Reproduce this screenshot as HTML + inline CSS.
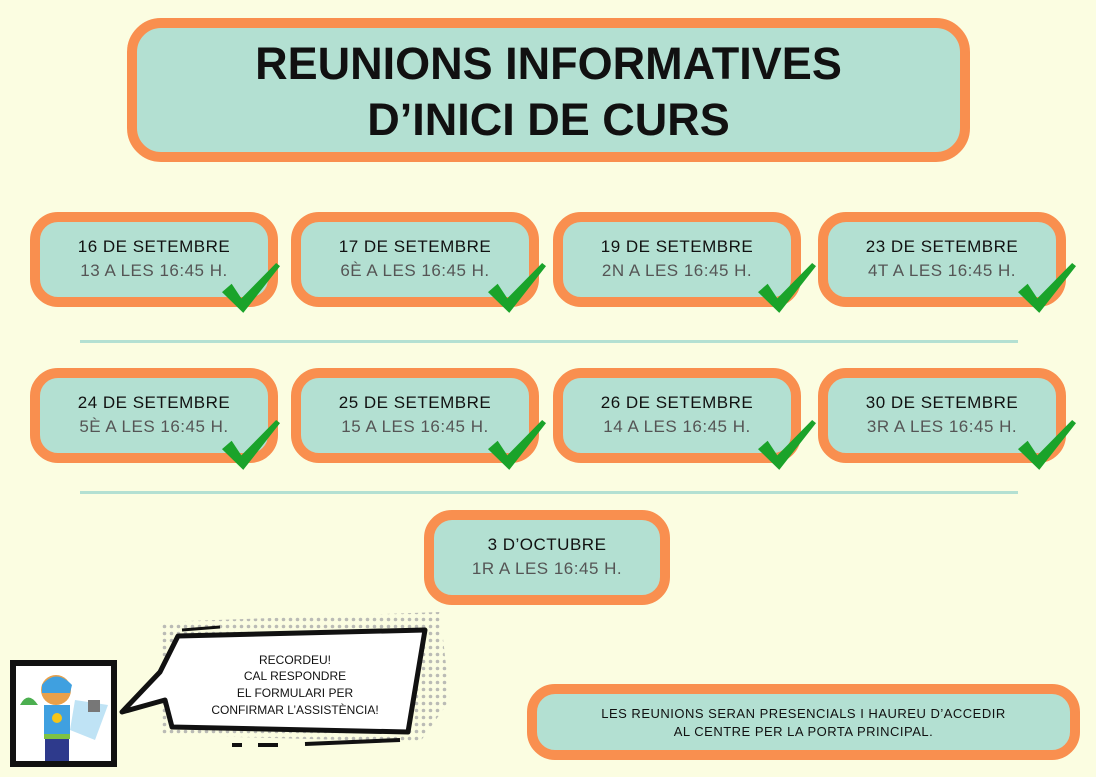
<!DOCTYPE html>
<html><head><meta charset="utf-8"><style>
body{margin:0;width:1096px;height:777px;background:#fbfde1;position:relative;overflow:hidden;font-family:"Liberation Sans","DejaVu Sans",sans-serif}
.b{position:absolute;box-sizing:border-box;border:10px solid #f98f4f;background:#b3e0d2;border-radius:28px;text-align:center}
.c{height:95px;width:248px;padding-top:15px;font-size:17px;letter-spacing:0.5px}
.c .l1{color:#111}.c .l2{color:#555;margin-top:4px}
.ln{position:absolute;left:80px;width:938px;height:3px;background:#b3e0d2}
</style></head><body>
<div class="b" style="left:127px;top:18px;width:843px;height:144px;border-radius:34px;font-weight:bold;font-size:45px;line-height:56px;padding-top:8px;color:#111">REUNIONS INFORMATIVES<br>D’INICI DE CURS</div>

<div class="b c" style="left:30px;top:212px"><div class="l1">16 DE SETEMBRE</div><div class="l2">13 A LES 16:45 H.</div></div>
<div class="b c" style="left:291px;top:212px"><div class="l1">17 DE SETEMBRE</div><div class="l2">6È A LES 16:45 H.</div></div>
<div class="b c" style="left:553px;top:212px"><div class="l1">19 DE SETEMBRE</div><div class="l2">2N A LES 16:45 H.</div></div>
<div class="b c" style="left:818px;top:212px"><div class="l1">23 DE SETEMBRE</div><div class="l2">4T A LES 16:45 H.</div></div>
<div class="ln" style="top:340px"></div>
<div class="b c" style="left:30px;top:368px"><div class="l1">24 DE SETEMBRE</div><div class="l2">5È A LES 16:45 H.</div></div>
<div class="b c" style="left:291px;top:368px"><div class="l1">25 DE SETEMBRE</div><div class="l2">15 A LES 16:45 H.</div></div>
<div class="b c" style="left:553px;top:368px"><div class="l1">26 DE SETEMBRE</div><div class="l2">14 A LES 16:45 H.</div></div>
<div class="b c" style="left:818px;top:368px"><div class="l1">30 DE SETEMBRE</div><div class="l2">3R A LES 16:45 H.</div></div>
<div class="ln" style="top:491px"></div>
<div class="b c" style="left:424px;top:510px;width:246px"><div class="l1">3 D’OCTUBRE</div><div class="l2">1R A LES 16:45 H.</div></div>

<div class="b" style="left:527px;top:684px;width:553px;height:76px;border-radius:28px;font-size:13px;line-height:18px;padding-top:11px;color:#111;letter-spacing:0.5px">LES REUNIONS SERAN PRESENCIALS I HAUREU D’ACCEDIR<br>AL CENTRE PER LA PORTA PRINCIPAL.</div>

<svg width="1096" height="777" style="position:absolute;left:0;top:0">
<defs><symbol id="ck" viewBox="0 0 60 50" preserveAspectRatio="none"><path d="M0 28 L10 20 L20 34 L56 0 L60 3 L22 48 Z" fill="#1aa32a"/></symbol>
<pattern id="dt" width="7" height="7" patternUnits="userSpaceOnUse"><circle cx="3.5" cy="3.5" r="1.8" fill="#aaa"/></pattern></defs>
<use href="#ck" x="222" y="263" width="58" height="52"/>
<use href="#ck" x="488" y="263" width="58" height="52"/>
<use href="#ck" x="758" y="263" width="58" height="52"/>
<use href="#ck" x="1018" y="263" width="58" height="52"/>
<use href="#ck" x="222" y="420" width="58" height="52"/>
<use href="#ck" x="488" y="420" width="58" height="52"/>
<use href="#ck" x="758" y="420" width="58" height="52"/>
<use href="#ck" x="1018" y="420" width="58" height="52"/>
<path d="M160 622 L440 612 L450 700 L420 742 L160 735 Z" fill="url(#dt)" opacity="0.8"/>
<path d="M178 636 L425 630 L408 732 L172 727 L165 700 L122 712 L160 672 Z" fill="#fff" stroke="#111" stroke-width="5" stroke-linejoin="round"/>
<path d="M182 630 L220 627" stroke="#111" stroke-width="3"/>
<path d="M232 745 L242 745 M258 745 L278 745 M305 744 L400 740" stroke="#111" stroke-width="4"/>
<text font-size="12" text-anchor="middle" fill="#111" font-family="Liberation Sans,sans-serif"><tspan x="295" y="664">RECORDEU!</tspan><tspan x="295" y="680">CAL RESPONDRE</tspan><tspan x="295" y="697">EL FORMULARI PER</tspan><tspan x="295" y="714">CONFIRMAR L’ASSISTÈNCIA!</tspan></text>
<rect x="13" y="663" width="101" height="101" fill="#fff" stroke="#111" stroke-width="6"/>
<path d="M75 700 L108 705 L95 740 L70 730Z" fill="#bfe3f5"/>
<circle cx="56" cy="690" r="15" fill="#e9a04a"/>
<path d="M42 685 Q56 668 72 685 L70 693 L42 693Z" fill="#3fa0e0"/>
<rect x="44" y="705" width="26" height="30" fill="#3fa0e0"/>
<circle cx="57" cy="718" r="5" fill="#f5c518"/>
<rect x="44" y="734" width="26" height="5" fill="#7ec242"/>
<rect x="45" y="739" width="24" height="22" fill="#2e3a8c"/>
<path d="M20 705 Q28 690 38 705Z" fill="#4caf50"/>
<rect x="88" y="700" width="12" height="12" fill="#777"/>
</svg>
</body></html>
